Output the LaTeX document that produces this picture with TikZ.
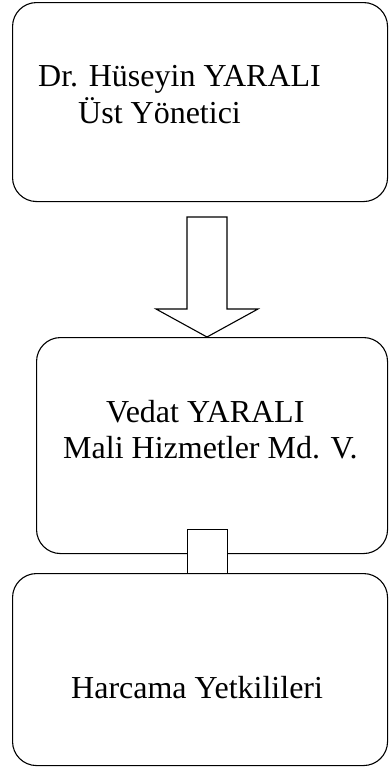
\documentclass[tikz,border=0pt]{standalone}
\usepackage{fontspec}
\setmainfont{Liberation Serif}
\begin{document}
\begin{tikzpicture}[x=1pt,y=-1pt,
  box/.style={draw,line width=1.1pt,rounded corners=24pt,anchor=north west,inner sep=0pt},
  lbl/.style={anchor=base west,inner sep=0pt,font=\fontsize{32}{37}\selectfont},
  link/.style={draw,fill=white,line width=1.1pt,anchor=north west,inner sep=0pt}]
\useasboundingbox (0,0) rectangle (389,769);
\node[box,minimum width=375pt,minimum height=199pt] (b1) at (12,2) {};
\node[box,minimum width=351pt,minimum height=216pt] (b2) at (36,337) {};
\node[box,minimum width=375pt,minimum height=192pt] (b3) at (12,573) {};
\node[link,minimum width=40pt,minimum height=44pt] (c) at (187,529) {};
\draw[line width=1.1pt,line join=miter,fill=white] (187,217) -- (227,217) -- (227,309) -- (258,309) -- (207,337) -- (156,309) -- (187,309) -- cycle;
\node[lbl] (t1) at (38,86) {Dr. Hüseyin YARALI};
\node[lbl] (t2) at (78,123) {Üst Yönetici};
\node[lbl] (t3) at (106,422) {Vedat YARALI};
\node[lbl] (t4) at (63,458) {Mali Hizmetler Md. V.};
\node[lbl] (t5) at (71,698) {Harcama Yetkilileri};
\end{tikzpicture}
\end{document}
